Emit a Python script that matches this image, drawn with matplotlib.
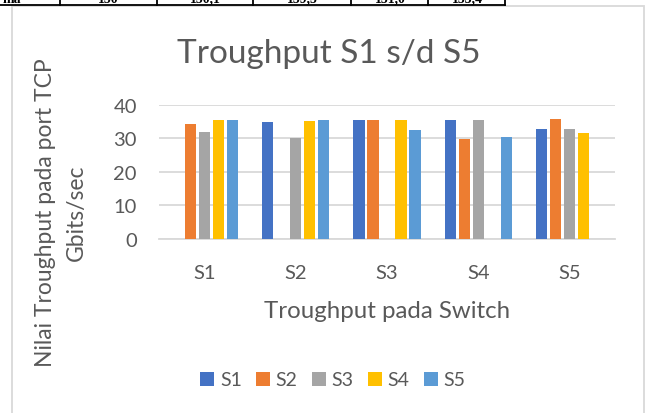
import numpy as np
import matplotlib.pyplot as plt
from matplotlib.patches import Rectangle
from matplotlib.lines import Line2D

plt.rcParams['font.family'] = ['Lato', 'DejaVu Sans']

categories = ['S1', 'S2', 'S3', 'S4', 'S5']
series_names = ['S1', 'S2', 'S3', 'S4', 'S5']
# rows: series S1..S5, columns: category S1..S5 (0 = no bar)
s1 = [0, 34.7, 35.3, 35.4, 32.9]
s2 = [34.3, 0, 35.5, 29.9, 35.6]
s3 = [32.0, 30.1, 0, 35.4, 32.7]
s4 = [35.5, 35.1, 35.3, 0, 31.5]
s5 = [35.5, 35.5, 32.6, 30.3, 0]
colors = ['#4472C4', '#ED7D31', '#A5A5A5', '#FFC000', '#5B9BD5']

# clipped table row above the chart
table_cells = ['ma', '150', '150,1', '159,5', '151,0', '153,4']
table_centers = [12, 108, 205, 302, 390, 467]
table_lines = [60, 157, 253, 351, 428, 505]

W, H = 649, 414
fig = plt.figure(figsize=(W / 100, H / 100), dpi=100)
text_col = '#595959'
grid_col = '#D9D9D9'


def fx(px):
    return px / W


def fy(py):
    return 1 - py / H


# chart frame
fig.patches.append(Rectangle((fx(12), fy(420)), fx(644) - fx(12), fy(7) - fy(420),
                             transform=fig.transFigure, fill=False,
                             edgecolor=grid_col, lw=1.3))

# table fragment
fig.lines.append(Line2D([0, fx(505)], [fy(6), fy(6)], transform=fig.transFigure,
                        color='black', lw=1.3))
for x in table_lines:
    fig.lines.append(Line2D([fx(x), fx(x)], [fy(0), fy(6)], transform=fig.transFigure,
                            color='black', lw=1.3))
for t, x in zip(table_cells, table_centers):
    fig.text(fx(x), fy(3), t, ha='center', va='baseline', fontsize=10,
             family='Liberation Serif', fontweight='bold', color='black')

ax = fig.add_axes([fx(159), fy(240), fx(615) - fx(159), fy(105.7) - fy(240)])

data = [s1, s2, s3, s4, s5]
w = 1 / 8.27
pitch = 1.27 * w
x = np.arange(len(categories))
for i, (vals, c, name) in enumerate(zip(data, colors, series_names)):
    ax.bar(x + (i - 2) * pitch, vals, width=w, color=c, label=name, zorder=3)

ax.set_xlim(-0.5, 4.5)
ax.set_ylim(0, 40)
ax.set_yticks([0, 10, 20, 30, 40])
ax.set_xticks(x)
ax.set_xticklabels(categories)
ax.grid(axis='y', color=grid_col, lw=1.3, zorder=0)
for s in ['top', 'right', 'left']:
    ax.spines[s].set_visible(False)
ax.spines['bottom'].set_color(grid_col)
ax.spines['bottom'].set_linewidth(1.3)
ax.tick_params(axis='both', length=0, labelsize=14.5, colors=text_col)
ax.tick_params(axis='y', pad=16)
ax.tick_params(axis='x', pad=18)

fig.text(fx(329), fy(63), 'Troughput S1 s/d S5', ha='center', va='baseline',
         fontsize=24, color=text_col)
fig.text(fx(387), fy(318), 'Troughput pada Switch', ha='center', va='baseline',
         fontsize=17.3, color=text_col)
fig.text(fx(61), fy(213), 'Nilai Troughput pada port TCP\nGbits/sec', ha='center',
         va='center', rotation=90, fontsize=16.5, color=text_col, linespacing=1.55)

fig.legend(loc='center', bbox_to_anchor=(fx(333), fy(381)), ncol=5, frameon=False,
           fontsize=14, labelcolor=text_col, handlelength=0.7, handleheight=0.7,
           handletextpad=0.3, columnspacing=0.75)

fig.savefig('out.png', dpi=100, facecolor='white')
